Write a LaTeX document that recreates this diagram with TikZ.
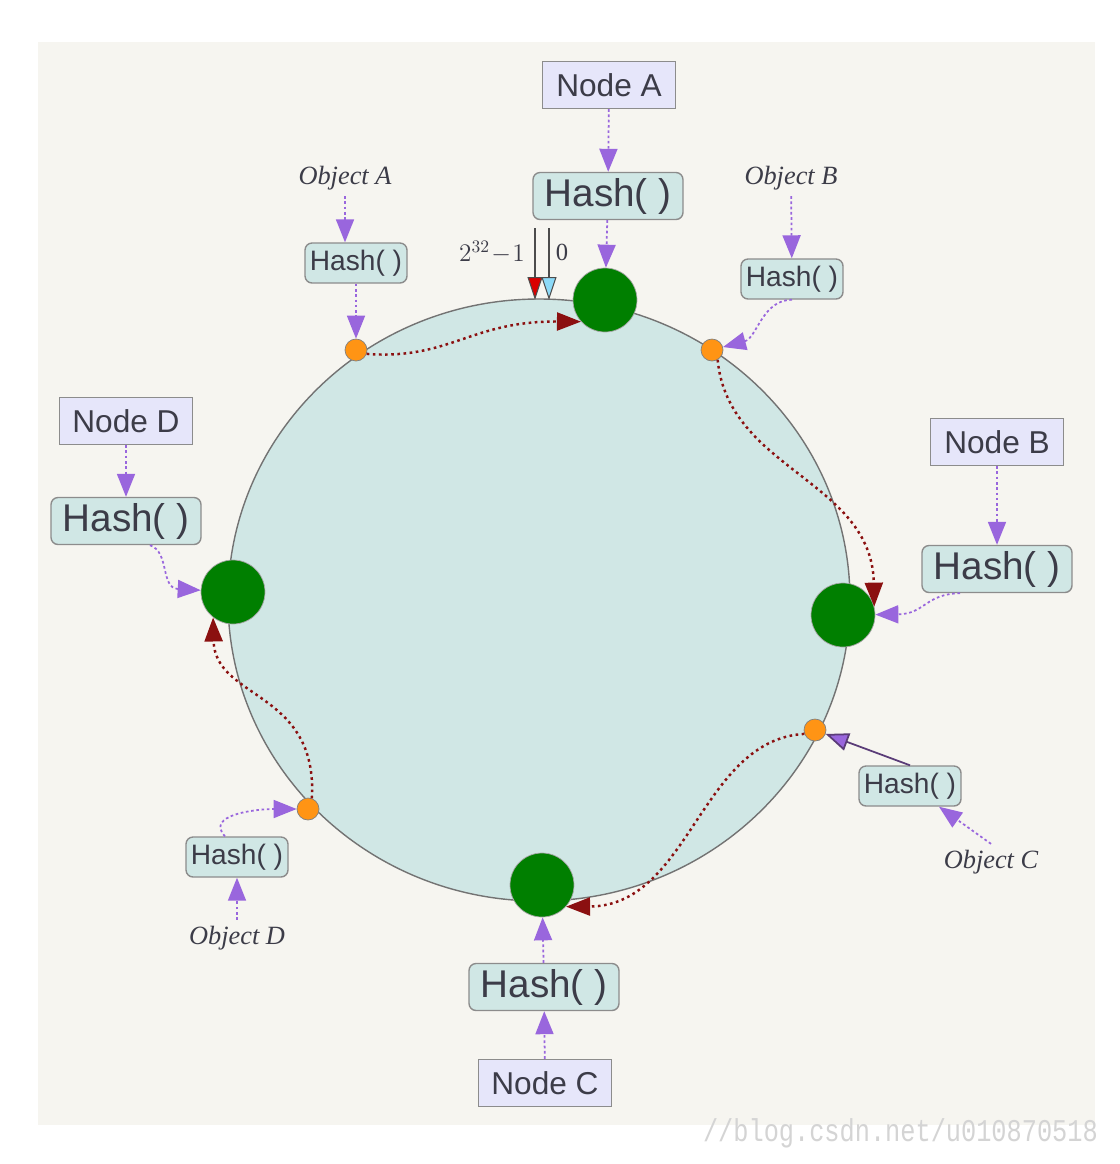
\documentclass[tikz,border=0pt]{standalone}
\usepackage{fontspec}
\setmainfont{Liberation Serif}
\setsansfont{Liberation Sans}
\setmonofont{Liberation Mono}
\usetikzlibrary{shapes,arrows.meta,positioning,calc}
\definecolor{bgbeige}{HTML}{F6F5F0}
\definecolor{ringfill}{HTML}{D0E7E5}
\definecolor{lav}{HTML}{E6E6FA}
\definecolor{boxline}{HTML}{8C8C8C}
\definecolor{txt}{HTML}{3C3C48}
\definecolor{purp}{HTML}{9966DD}
\definecolor{darkpurp}{HTML}{5A3C78}
\definecolor{darkred}{HTML}{8B1010}
\definecolor{srvgreen}{HTML}{007F00}
\definecolor{keyorange}{HTML}{FF9414}
\definecolor{wmark}{HTML}{D4D4D4}

\begin{document}
\begin{tikzpicture}[x=0.02cm,y=-0.02cm,
  nodestyle/.style={rectangle,draw=boxline,fill=lav,text=txt,line width=0.8pt,font=\sffamily\fontsize{18}{20}\selectfont,minimum width=2.66cm,minimum height=0.94cm},
  hashbig/.style={rectangle,rounded corners=4pt,draw=boxline,fill=ringfill,text=txt,line width=0.8pt,font=\sffamily\fontsize{22}{24}\selectfont,minimum width=3cm,minimum height=0.94cm,inner sep=0pt},
  hashsmall/.style={rectangle,rounded corners=4pt,draw=boxline,fill=ringfill,text=txt,line width=0.8pt,font=\sffamily\fontsize{16}{18}\selectfont,minimum width=2.04cm,minimum height=0.8cm,inner sep=0pt},
  objstyle/.style={text=txt,font=\itshape\fontsize{15}{17}\selectfont},
  serverdot/.style={circle,draw=gray!70,fill=srvgreen,minimum size=1.28cm,inner sep=0pt},
  keydot/.style={circle,draw=gray,fill=keyorange,minimum size=0.44cm,inner sep=0pt},
  hasharrow/.style={draw=purp,line width=1pt,dash pattern=on 1.5pt off 1.5pt,-{Triangle[length=0.46cm,width=0.36cm,fill=purp]}},
  walkarrow/.style={draw=darkred,line width=1.4pt,dash pattern=on 1.5pt off 2pt,-{Triangle[length=0.48cm,width=0.36cm,fill=darkred]}}]
\useasboundingbox (0,0) rectangle (1120,1164);
\fill[white] (0,0) rectangle (1120,1164);
\fill[bgbeige] (38,42) rectangle (1095,1125);
\node[font=\ttfamily\fontsize{18}{18}\selectfont,text=wmark,anchor=east] (wm) at (1104,1133) {\scalebox{0.8}[1]{//blog.csdn.net/u010870518}};
% the ring
\draw[draw=gray!90!black,fill=ringfill,line width=0.8pt] (539,600) ellipse[x radius=311,y radius=301];
% zero point
\coordinate (m1) at (535,228);
\coordinate (m1e) at (535,300);
\coordinate (m0) at (549,228);
\coordinate (m0e) at (549,300);
\draw[gray!60!black,line width=0.6pt,-{Triangle[length=0.46cm,width=0.3cm,fill=red!85!black]}] (m1) -- (m1e);
\draw[gray!60!black,line width=0.6pt,-{Triangle[length=0.46cm,width=0.3cm,fill=cyan!45]}] (m0) -- (m0e);
\node[text=txt,font=\fontsize{14}{16}\selectfont] (lmax) at (492,252) {$2^{32}\!-\!1$};
\node[text=txt,font=\fontsize{14}{16}\selectfont] (lzero) at (562,252) {0};
% servers
\node[nodestyle] (nA) at (609,85) {Node A};
\node[hashbig] (hA) at (608,196) {Hash( )};
\node[serverdot] (sA) at (605,300) {};
\node[nodestyle] (nB) at (997,442) {Node B};
\node[hashbig] (hB) at (997,569) {Hash( )};
\node[serverdot] (sB) at (843,615) {};
\node[nodestyle] (nC) at (545,1083) {Node C};
\node[hashbig] (hC) at (544,987) {Hash( )};
\node[serverdot] (sC) at (542,885) {};
\node[nodestyle] (nD) at (126,421) {Node D};
\node[hashbig] (hD) at (126,521) {Hash( )};
\node[serverdot] (sD) at (233,592) {};
% objects
\node[objstyle] (obA) at (345,178) {Object A};
\node[hashsmall] (ha) at (356,263) {Hash( )};
\node[keydot] (oa) at (356,350) {};
\node[objstyle] (obB) at (791,178) {Object B};
\node[hashsmall] (hb) at (792,279) {Hash( )};
\node[keydot] (ob) at (712,350) {};
\node[objstyle] (obC) at (991,862) {Object C};
\node[hashsmall] (hc) at (910,786) {Hash( )};
\node[keydot] (oc) at (815,730) {};
\node[objstyle] (obD) at (237,938) {Object D};
\node[hashsmall] (hd) at (237,857) {Hash( )};
\node[keydot] (od) at (308,809) {};
% hashing
\draw[hasharrow] (nA) -- (hA);
\draw[hasharrow] (hA) -- (sA);
\draw[hasharrow] (nB) -- (hB);
\draw[hasharrow] ($(hB.south)+(-37,0)$) .. controls (925,594) and (925,614) .. (sB);
\draw[hasharrow] (nC) -- (hC);
\draw[hasharrow] (hC) -- (sC);
\draw[hasharrow] (nD) -- (hD);
\draw[hasharrow] ($(hD.south)+(24,0)$) .. controls (170,552) and (160,588) .. (sD);
\draw[hasharrow] (obA) -- (obA |- ha.north);
\draw[hasharrow] (ha) -- (oa);
\draw[hasharrow] (obB) -- (hb);
\draw[hasharrow] (hb.south) .. controls (762,300) and (757,338) .. (ob);
\draw[hasharrow] (obC.north) -- (hc);
\draw[draw=darkpurp,line width=1pt,-{Triangle[length=0.46cm,width=0.36cm,fill=purp]}] (hc.north) -- (oc);
\draw[hasharrow] (obD) -- (hd);
\draw[hasharrow] ($(hd.north)+(-12,0)$) .. controls (205,815) and (255,809) .. (od);
% walking clockwise
\draw[walkarrow] (oa.-20) .. controls (450,360) and (470,321) .. (sA.222);
\draw[walkarrow] (ob.-60) .. controls (728,470) and (872,480) .. (sB.15);
\draw[walkarrow] (oc.200) .. controls (700,740) and (690,906) .. (sC.-42);
\draw[walkarrow] (od.70) .. controls (318,690) and (215,700) .. (sD.232);
\end{tikzpicture}
\end{document}
